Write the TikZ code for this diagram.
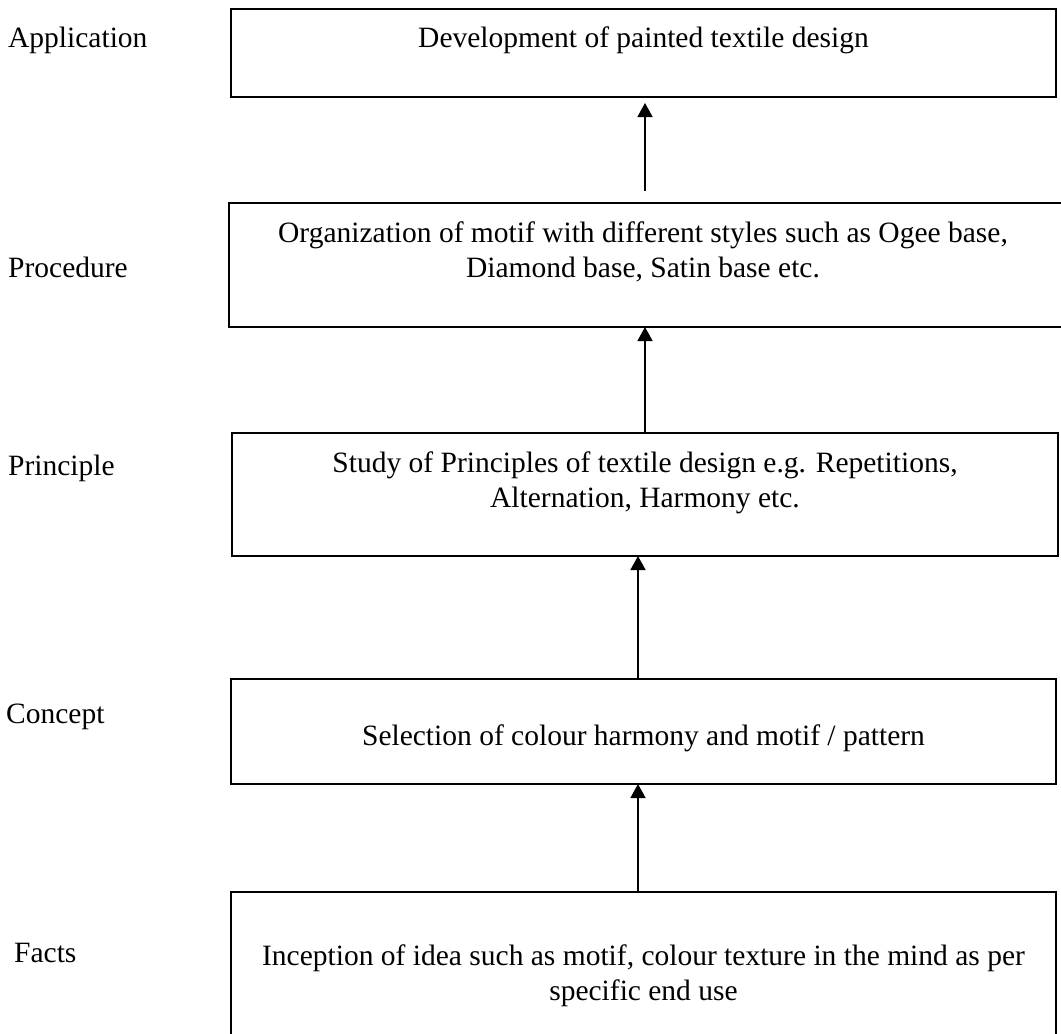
\documentclass[tikz,border=0pt]{standalone}
\usepackage{fontspec}
\setmainfont{Liberation Serif}
\usetikzlibrary{arrows.meta}
\begin{document}
\begin{tikzpicture}[x=1pt,y=-1pt,
  stage/.style={draw, line width=1.8pt, inner sep=0pt, outer sep=0pt},
  levellabel/.style={anchor=base west, inner sep=0pt, font=\fontsize{29.5}{35}\selectfont},
  boxtext/.style={anchor=base, inner sep=0pt, align=center, font=\fontsize{29.5}{35}\selectfont},
  arr/.style={line width=1.5pt, -{Triangle[width=15pt,length=14pt]}}
]
\useasboundingbox[fill=white] (0,0) rectangle (1061,1034);

% stage boxes
\node[stage, minimum width=825pt, minimum height=88pt]  (app)   at (643.5,53)    {};
\node[stage, minimum width=835pt, minimum height=124pt] (proc)  at (646.5,265)   {};
\node[stage, minimum width=826pt, minimum height=123pt] (prin)  at (645,494.5)   {};
\node[stage, minimum width=825pt, minimum height=105pt] (conc)  at (643.5,731.5) {};
\node[stage, minimum width=825pt, minimum height=153pt] (facts) at (643.5,968.5) {};

% box texts (base anchor sits on the last line)
\node[boxtext] (appt)   at (643.5,47)  {Development of painted textile design};
\node[boxtext] (proct)  at (643,277)   {Organization of motif with different styles such as Ogee base,\\Diamond base, Satin base etc.};
\node[boxtext] (print)  at (645,507)   {Study of Principles of textile design e.g. Repetitions,\\Alternation, Harmony etc.};
\node[boxtext] (conct)  at (643.5,745) {Selection of colour harmony and motif / pattern};
\node[boxtext] (factst) at (643.5,1000) {Inception of idea such as motif, colour texture in the mind as per\\specific end use};

% level labels
\node[levellabel] (lapp)   at (8,47)   {Application};
\node[levellabel] (lproc)  at (8,277)  {Procedure};
\node[levellabel] (lprin)  at (8,475)  {Principle};
\node[levellabel] (lconc)  at (6,723)  {Concept};
\node[levellabel] (lfacts) at (14,962) {Facts};

% arrow columns
\coordinate (a1s) at (645,191);
\coordinate (c2) at (645,0);
\coordinate (c3) at (638,0);

% connectors
\draw[arr, shorten >=6pt] (a1s) -- (a1s |- app.south);
\draw[arr] (prin.north -| c2) -- (proc.south -| c2);
\draw[arr] (conc.north -| c3) -- (prin.south -| c3);
\draw[arr] (facts.north -| c3) -- (conc.south -| c3);
\end{tikzpicture}
\end{document}
